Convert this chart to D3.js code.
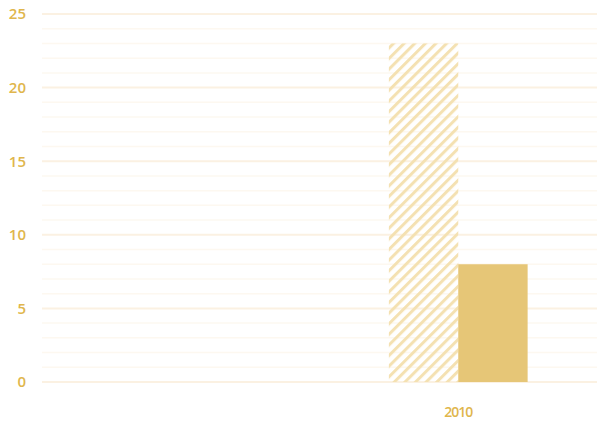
<!DOCTYPE html>
<html>
<head>
<meta charset="utf-8">
<script src="https://cdn.jsdelivr.net/npm/d3@7"></script>
<style>
  body { margin: 0; background: #fff; }
  .tick text { font-family: "Open Sans", sans-serif; fill: #e0b64c; font-weight: 600; }
</style>
</head>
<body>
<div id="chart"></div>
<script>
// data
const categories = ["", "2010"];
const hatchedValues = [null, 23];
const solidValues = [null, 8];
const yTicks = [0, 5, 10, 15, 20, 25];

const width = 597,
    height = 429,
    margin = { top: 14, right: 0, bottom: 47, left: 42 };

const svg = d3.select("#chart")
    .append("svg")
    .attr("width", width)
    .attr("height", height);

// diagonal hatch
const defs = svg.append("defs");
const pattern = defs.append("pattern")
    .attr("id", "hatch")
    .attr("patternUnits", "userSpaceOnUse")
    .attr("width", 7.5)
    .attr("height", 7.5)
    .attr("patternTransform", "rotate(45)");
pattern.append("rect")
    .attr("width", 3)
    .attr("height", 7.5)
    .attr("fill", "#f4e1b2");

const xScale = d3.scaleBand()
    .domain(categories)
    .range([margin.left, width - margin.right]);

const inner = d3.scaleBand()
    .domain(["hatched", "solid"])
    .range([0, xScale.bandwidth()])
    .paddingOuter(1)
    .paddingInner(0);

const yScale = d3.scaleLinear()
    .domain([0, 25])
    .range([height - margin.bottom, margin.top]);

// minor gridlines
svg.append("g")
    .selectAll("line")
    .data(d3.range(0, 26).filter(v => v % 5 !== 0))
    .join("line")
    .attr("x1", margin.left)
    .attr("x2", width - margin.right)
    .attr("y1", d => yScale(d))
    .attr("y2", d => yScale(d))
    .attr("stroke", "#fdf8f0")
    .attr("stroke-width", 1.5);

// major gridlines
svg.append("g")
    .selectAll("line")
    .data(yTicks)
    .join("line")
    .attr("x1", margin.left)
    .attr("x2", width - margin.right)
    .attr("y1", d => yScale(d))
    .attr("y2", d => yScale(d))
    .attr("stroke", "#fbf1e2")
    .attr("stroke-width", 2);

const rows = categories.map((c, i) => ({ cat: c, hatched: hatchedValues[i], solid: solidValues[i] }))
    .filter(d => d.hatched != null);

svg.append("g")
    .selectAll("rect")
    .data(rows)
    .join("rect")
    .attr("x", d => xScale(d.cat) + inner("hatched"))
    .attr("y", d => yScale(d.hatched))
    .attr("width", inner.bandwidth())
    .attr("height", d => yScale(0) - yScale(d.hatched))
    .attr("fill", "url(#hatch)");

svg.append("g")
    .selectAll("rect")
    .data(rows)
    .join("rect")
    .attr("x", d => xScale(d.cat) + inner("solid"))
    .attr("y", d => yScale(d.solid))
    .attr("width", inner.bandwidth())
    .attr("height", d => yScale(0) - yScale(d.solid))
    .attr("fill", "#e6c677");

const yAxis = d3.axisLeft(yScale).tickValues(yTicks).tickSize(0).tickPadding(16);
svg.append("g")
    .attr("transform", `translate(${margin.left},0)`)
    .call(yAxis)
    .call(g => g.select(".domain").remove())
    .selectAll("text")
    .attr("font-size", 15);

const xAxis = d3.axisBottom(xScale).tickSize(0).tickPadding(25);
svg.append("g")
    .attr("transform", `translate(0,${height - margin.bottom})`)
    .call(xAxis)
    .call(g => g.select(".domain").remove())
    .selectAll("text")
    .attr("font-size", 14)
    .attr("letter-spacing", -1);
</script>
</body>
</html>
